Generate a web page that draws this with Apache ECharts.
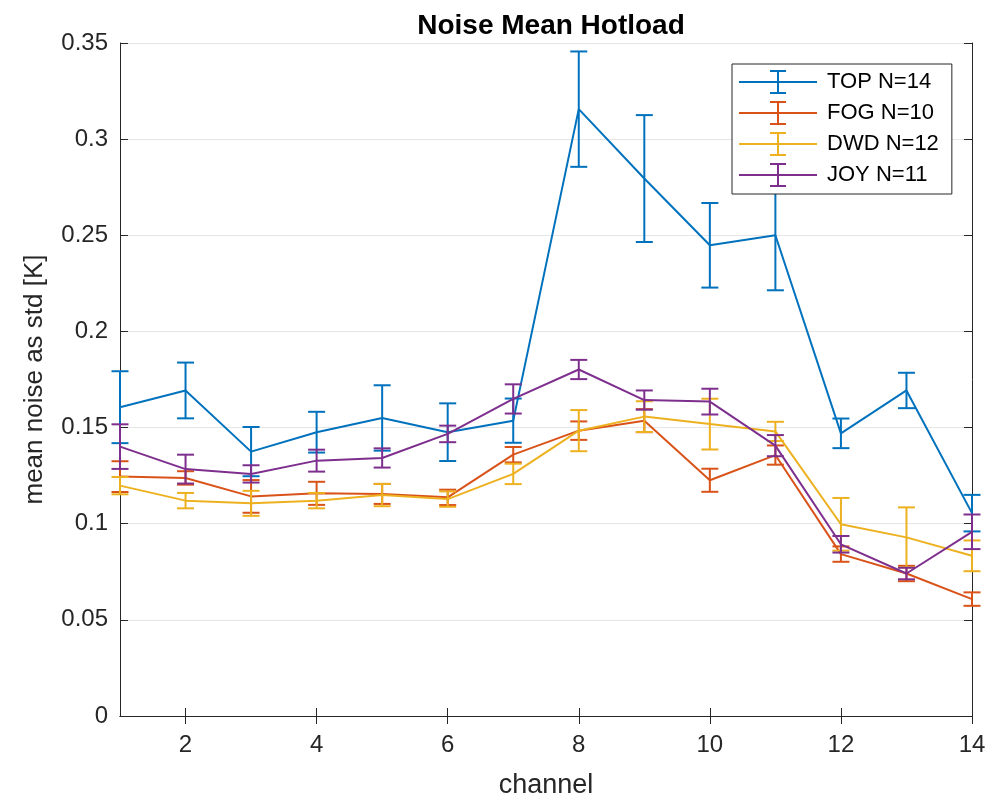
<!DOCTYPE html>
<html>
<head>
<meta charset="utf-8">
<script src="https://cdn.jsdelivr.net/npm/echarts@6/dist/echarts.min.js"></script>
<style>html,body{margin:0;padding:0;background:#fff}#c{width:998px;height:799px}</style>
</head>
<body>
<div id="c"></div>
<script>
const channels = [1,2,3,4,5,6,7,8,9,10,11,12,13,14];
const xTicks = [2,4,6,8,10,12,14];
const seriesNames = ['TOP N=14','FOG N=10','DWD N=12','JOY N=11'];
const colors = ['#0072BD','#D95319','#EDB120','#7E2F8E'];

const topMean = [0.1606,0.1693,0.1375,0.1476,0.1550,0.1476,0.1536,0.3156,0.2795,0.2448,0.2500,0.1470,0.1693,0.1055];
const topErr  = [0.0187,0.0145,0.0128,0.0106,0.0170,0.0150,0.0115,0.0300,0.0330,0.0220,0.0286,0.0077,0.0092,0.0095];
const fogMean = [0.1245,0.1238,0.1142,0.1158,0.1155,0.1137,0.1359,0.1484,0.1536,0.1226,0.1357,0.0842,0.0741,0.0608];
const fogErr  = [0.0080,0.0035,0.0085,0.0060,0.0052,0.0040,0.0040,0.0048,0.0060,0.0060,0.0050,0.0040,0.0040,0.0035];
const dwdMean = [0.1198,0.1120,0.1106,0.1120,0.1149,0.1128,0.1259,0.1484,0.1557,0.1518,0.1480,0.0997,0.0929,0.0833];
const dwdErr  = [0.0045,0.0040,0.0065,0.0040,0.0058,0.0040,0.0053,0.0107,0.0080,0.0132,0.0050,0.0137,0.0156,0.0080];
const joyMean = [0.1401,0.1284,0.1259,0.1328,0.1342,0.1467,0.1649,0.1802,0.1643,0.1635,0.1406,0.0893,0.0741,0.0958];
const joyErr  = [0.0116,0.0075,0.0045,0.0057,0.0050,0.0043,0.0076,0.0050,0.0050,0.0067,0.0055,0.0043,0.0030,0.0090];

const means = [topMean, fogMean, dwdMean, joyMean];
const errs = [topErr, fogErr, dwdErr, joyErr];

const legendIcon = 'path://M0,11 L78,11 L78,13 L0,13 Z M38,0 L40,0 L40,24 L38,24 Z M31,0 L47,0 L47,2 L31,2 Z M31,22 L47,22 L47,24 L31,24 Z';
const FONT = 'Liberation Sans';
const AX = '#262626';

function errRender(color) {
  return function (params, api) {
    const x = api.value(0), lo = api.value(1), hi = api.value(2);
    const pLo = api.coord([x, lo]);
    const pHi = api.coord([x, hi]);
    const hw = 8.5;
    const st = {stroke: color, lineWidth: 2};
    return {
      type: 'group',
      children: [
        {type: 'line', shape: {x1: pLo[0], y1: pLo[1], x2: pHi[0], y2: pHi[1]}, style: st},
        {type: 'line', shape: {x1: pLo[0]-hw, y1: pLo[1], x2: pLo[0]+hw, y2: pLo[1]}, style: st},
        {type: 'line', shape: {x1: pHi[0]-hw, y1: pHi[1], x2: pHi[0]+hw, y2: pHi[1]}, style: st}
      ]
    };
  };
}

const series = [];
for (let i = 0; i < 4; i++) {
  series.push({
    name: seriesNames[i], type: 'line', xAxisIndex: 0, yAxisIndex: 0,
    data: channels.map((c, k) => [c, means[i][k]]),
    symbol: 'none', lineStyle: {color: colors[i], width: 2}, itemStyle: {color: colors[i]},
    z: 2 + i * 2, animation: false
  });
  series.push({
    name: seriesNames[i], type: 'custom', xAxisIndex: 0, yAxisIndex: 0,
    data: channels.map((c, k) => [c, means[i][k] - errs[i][k], means[i][k] + errs[i][k]]),
    renderItem: errRender(colors[i]), clip: false,
    itemStyle: {color: colors[i]}, z: 3 + i * 2, animation: false,
    encode: {x: 0, y: [1, 2]}
  });
}

const chart = echarts.init(document.getElementById('c'), null, {renderer: 'canvas'});
chart.setOption({
  animation: false,
  backgroundColor: '#fff',
  textStyle: {fontFamily: FONT},
  title: {
    text: 'Noise Mean Hotload', left: 546, top: 7, textAlign: 'center',
    textStyle: {fontFamily: FONT, fontSize: 28, fontWeight: 'bold', color: '#000'}
  },
  grid: {left: 120, right: 26, top: 43, bottom: 83, containLabel: false, outerBoundsMode: 'none'},
  legend: {
    left: 732, top: 64, orient: 'vertical',
    data: seriesNames.map((n) => ({name: n, icon: legendIcon})),
    itemWidth: 78, itemHeight: 24, itemGap: 7,
    padding: [6, 13, 7, 7],
    borderColor: AX, borderWidth: 1, backgroundColor: '#fff',
    textStyle: {fontFamily: FONT, fontSize: 22, color: '#000', padding: [0, 0, 0, 5]},
    selectedMode: false
  },
  xAxis: [{
    type: 'value', min: 1, max: 14, interval: 1, position: 'bottom',
    name: 'channel', nameLocation: 'middle', nameGap: 56,
    nameTextStyle: {fontFamily: FONT, fontSize: 27, color: AX},
    axisLine: {show: true, lineStyle: {color: AX, width: 1}},
    axisTick: {show: true, inside: true, length: 8, customValues: xTicks, lineStyle: {color: AX}},
    axisLabel: {fontFamily: FONT, fontSize: 24, color: AX, margin: 17, customValues: xTicks},
    splitLine: {show: false}
  }, {
    type: 'value', min: 1, max: 14, interval: 1, position: 'top',
    axisLine: {show: true, lineStyle: {color: AX, width: 1}},
    axisTick: {show: true, inside: true, length: 8, customValues: xTicks, lineStyle: {color: AX}},
    axisLabel: {show: false},
    splitLine: {show: false}
  }],
  yAxis: [{
    type: 'value', min: 0, max: 0.35, interval: 0.05, position: 'left',
    name: 'mean noise as std [K]', nameLocation: 'middle', nameGap: 72, nameRotate: 90,
    nameTextStyle: {fontFamily: FONT, fontSize: 26, color: AX},
    axisLine: {show: true, lineStyle: {color: AX, width: 1}},
    axisTick: {show: true, inside: true, length: 8, lineStyle: {color: AX}},
    axisLabel: {fontFamily: FONT, fontSize: 24, color: AX, margin: 12},
    splitLine: {show: true, lineStyle: {color: '#e6e6e6', width: 1}}
  }, {
    type: 'value', min: 0, max: 0.35, interval: 0.05, position: 'right',
    axisLine: {show: true, lineStyle: {color: AX, width: 1}},
    axisTick: {show: true, inside: true, length: 8, lineStyle: {color: AX}},
    axisLabel: {show: false},
    splitLine: {show: false}
  }],
  series: series
});
</script>
</body>
</html>
